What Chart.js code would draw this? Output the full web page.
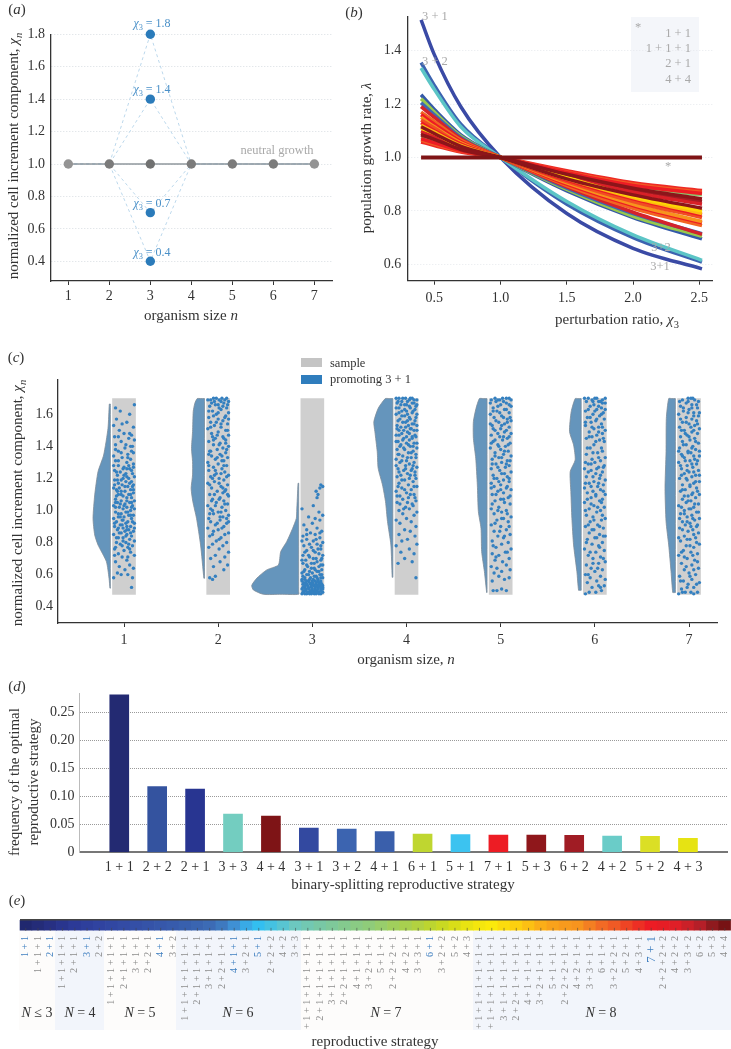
<!DOCTYPE html>
<html>
<head>
<meta charset="utf-8">
<script src="https://cdn.jsdelivr.net/npm/chart.js@4"></script>
<style>
  html, body { margin: 0; padding: 0; background: #fff; }
  #page { position: relative; width: 731px; height: 1049px; overflow: hidden; font-family: 'Liberation Serif', serif; color: #333; }
  canvas { position: absolute; left: 0; top: 0; }
  .t { position: absolute; white-space: nowrap; transform: translate(-50%, -50%); line-height: 1; }
  .v { transform: translate(-50%, -50%) rotate(-90deg); }
  .r { transform: translate(-100%, -50%); }
  .l { transform: translate(0, -50%); }
  .ax { font-size: 15px; }
  .tag { font-size: 15px; }
  .blue { color: #4a90c8; font-size: 12px; }
  .pale { color: #a9a9a9; font-size: 12.5px; }
  .band { position: absolute; top: 931px; height: 99px; }
  .swatch { position: absolute; left: 301px; width: 21px; height: 9px; }
  sub { font-size: 70%; line-height: 0; }
</style>
</head>
<body>
<div id="page">
  <div class="band" style="left:19px;width:36px;background:#fdfcfb"></div>
  <div class="band" style="left:55px;width:49px;background:#f2f5fb"></div>
  <div class="band" style="left:104px;width:72px;background:#fdfcfb"></div>
  <div class="band" style="left:176px;width:125px;background:#f2f5fb"></div>
  <div class="band" style="left:301px;width:172px;background:#fdfcfb"></div>
  <div class="band" style="left:473px;width:258px;background:#f2f5fb"></div>
  <div style="position:absolute;left:631px;top:17px;width:68px;height:75px;background:#f4f6fa"></div>

  <canvas id="chartA" width="731" height="1049"></canvas>
  <canvas id="chartB" width="731" height="1049"></canvas>
  <canvas id="chartC" width="731" height="1049"></canvas>
  <canvas id="chartD" width="731" height="1049"></canvas>
  <canvas id="chartE" width="760" height="1030"></canvas>

  <!-- panel a -->
  <div class="t tag" style="left:17px;top:9px">(<i>a</i>)</div>
  <div class="t ax v" style="left:13px;top:156px">normalized cell increment component, <i>χ<sub>n</sub></i></div>
  <div class="t ax" style="left:191px;top:315px">organism size <i>n</i></div>
  <div class="t blue" style="left:152px;top:23px"><i>χ</i><sub>3</sub> = 1.8</div>
  <div class="t blue" style="left:152px;top:89px"><i>χ</i><sub>3</sub> = 1.4</div>
  <div class="t blue" style="left:152px;top:203px"><i>χ</i><sub>3</sub> = 0.7</div>
  <div class="t blue" style="left:152px;top:252px"><i>χ</i><sub>3</sub> = 0.4</div>
  <div class="t pale" style="left:277px;top:150px">neutral growth</div>

  <!-- panel b -->
  <div class="t tag" style="left:354px;top:12px">(<i>b</i>)</div>
  <div class="t ax v" style="left:366px;top:158px">population growth rate, <i>λ</i></div>
  <div class="t ax" style="left:617px;top:319px">perturbation ratio, <i>χ</i><sub>3</sub></div>
  <div class="t pale l" style="left:422px;top:16px">3 + 1</div>
  <div class="t pale l" style="left:422px;top:61px">3 + 2</div>
  <div class="t pale" style="left:661px;top:247px">3+2</div>
  <div class="t pale" style="left:660px;top:266px">3+1</div>
  <div class="t pale" style="left:638px;top:27px">*</div>
  <div class="t pale" style="left:668px;top:166px">*</div>
  <div class="t pale r" style="left:691px;top:33px">1 + 1</div>
  <div class="t pale r" style="left:691px;top:48px">1 + 1 + 1</div>
  <div class="t pale r" style="left:691px;top:63px">2 + 1</div>
  <div class="t pale r" style="left:691px;top:79px">4 + 4</div>

  <!-- panel c -->
  <div class="t tag" style="left:16px;top:357px">(<i>c</i>)</div>
  <div class="t ax v" style="left:17px;top:503px">normalized cell increment component, <i>χ<sub>n</sub></i></div>
  <div class="t ax" style="left:406px;top:659px">organism size, <i>n</i></div>
  <div class="swatch" style="top:358px;background:#c4c4c4"></div>
  <div class="swatch" style="top:375px;background:#2f7dbd"></div>
  <div class="t l" style="left:330px;top:363px;font-size:12.5px">sample</div>
  <div class="t l" style="left:330px;top:379px;font-size:12.5px">promoting 3 + 1</div>

  <!-- panel d -->
  <div class="t tag" style="left:17px;top:686px">(<i>d</i>)</div>
  <div class="t ax v" style="left:14px;top:782px">frequency of the optimal</div>
  <div class="t ax v" style="left:33px;top:782px">reproductive strategy</div>
  <div class="t ax" style="left:403px;top:884px">binary-splitting reproductive strategy</div>

  <!-- panel e -->
  <div class="t tag" style="left:17px;top:900px">(<i>e</i>)</div>
  <div class="t" style="left:37px;top:1013px;font-size:14px"><i>N</i> ≤ 3</div>
  <div class="t" style="left:80px;top:1013px;font-size:14px"><i>N</i> = 4</div>
  <div class="t" style="left:140px;top:1013px;font-size:14px"><i>N</i> = 5</div>
  <div class="t" style="left:238px;top:1013px;font-size:14px"><i>N</i> = 6</div>
  <div class="t" style="left:386px;top:1013px;font-size:14px"><i>N</i> = 7</div>
  <div class="t" style="left:601px;top:1013px;font-size:14px"><i>N</i> = 8</div>
  <div class="t ax" style="left:375px;top:1041px">reproductive strategy</div>
</div>

<script>
// --- panel a data ---
const sizes = [1, 2, 3, 4, 5, 6, 7];
const neutral = [1, 1, 1, 1, 1, 1, 1];
const perturbed18 = [1, 1, 1.8, 1, 1, 1, 1];
const perturbed14 = [1, 1, 1.4, 1, 1, 1, 1];
const perturbed07 = [1, 1, 0.7, 1, 1, 1, 1];
const perturbed04 = [1, 1, 0.4, 1, 1, 1, 1];

// --- panel b data (lambda read at these perturbation ratios) ---
const ratios = [0.4, 0.5, 0.7, 1, 1.5, 2, 2.52];
const curve31 = [1.515, 1.385, 1.19, 1, 0.79, 0.66, 0.583];
const curve32 = [1.355, 1.27, 1.125, 1, 0.825, 0.70, 0.608];
const curveCyan = [1.335, 1.255, 1.115, 1, 0.835, 0.71, 0.615];
const curveMid = [
  [1.235, 1.18, 1.085, 1, 0.875, 0.775, 0.695],
  [1.22, 1.17, 1.08, 1, 0.88, 0.78, 0.705],
  [1.205, 1.16, 1.075, 1, 0.885, 0.79, 0.715],
  [1.19, 1.15, 1.07, 1, 0.89, 0.795, 0.712]
];
const curveFan = [
  [1.058, 1.045, 1.02, 1, 0.95, 0.905, 0.876],
  [1.065, 1.05, 1.024, 1, 0.945, 0.90, 0.87],
  [1.075, 1.06, 1.028, 1, 0.94, 0.89, 0.86],
  [1.07, 1.055, 1.026, 1, 0.943, 0.895, 0.865],
  [1.09, 1.07, 1.035, 1, 0.935, 0.88, 0.835],
  [1.10, 1.08, 1.038, 1, 0.93, 0.87, 0.825],
  [1.17, 1.135, 1.065, 1, 0.895, 0.81, 0.745],
  [1.16, 1.125, 1.06, 1, 0.90, 0.82, 0.755],
  [1.15, 1.115, 1.055, 1, 0.905, 0.825, 0.76],
  [1.14, 1.11, 1.05, 1, 0.91, 0.835, 0.775],
  [1.13, 1.10, 1.05, 1, 0.915, 0.845, 0.785],
  [1.12, 1.095, 1.045, 1, 0.92, 0.85, 0.79],
  [1.11, 1.09, 1.04, 1, 0.925, 0.855, 0.80],
  [1.115, 1.09, 1.042, 1, 0.92, 0.86, 0.81],
  [1.085, 1.068, 1.03, 1, 0.937, 0.885, 0.845]
];
const curveFlat = [1, 1, 1, 1, 1, 1, 1];
const midColours = ['#3459a8', '#98c84c', '#3f68b2', '#d4232b'];
const fanColours = ['#ee2a24', '#f15a24', '#8bc66b', '#ed1c24', '#a51c24', '#d82027', '#f26522', '#ed1c24', '#f7941d', '#f04e23', '#ed1c24', '#fdb813', '#fed504', '#8c151a', '#8c151a'];

// --- panel c data: half violin outlines (chi, width) ---
const violinChi1 = [1.664, 1.513, 1.346, 1.242, 1.097, 0.951, 0.847, 0.785, 0.681, 0.577, 0.515];
const violinWidth1 = [0.011, 0.025, 0.071, 0.131, 0.166, 0.184, 0.166, 0.131, 0.042, 0.014, 0.004];
const violinChi2 = [1.698, 1.669, 1.617, 1.492, 1.388, 1.305, 1.222, 1.138, 1.055, 0.951, 0.785, 0.577];
const violinWidth2 = [0.078, 0.103, 0.120, 0.127, 0.138, 0.127, 0.127, 0.142, 0.124, 0.085, 0.042, 0.007];
const violinChi3 = [1.170, 0.993, 0.951, 0.889, 0.806, 0.743, 0.660, 0.629, 0.577, 0.532, 0.504, 0.477];
const violinWidth3 = [0.007, 0.021, 0.025, 0.064, 0.127, 0.191, 0.216, 0.340, 0.446, 0.499, 0.481, 0.375];
const violinChi4 = [1.698, 1.637, 1.554, 1.492, 1.367, 1.263, 1.159, 1.055, 0.931, 0.785, 0.583];
const violinWidth4 = [0.081, 0.156, 0.202, 0.191, 0.166, 0.156, 0.110, 0.078, 0.057, 0.021, 0.007];
const violinChi5 = [1.698, 1.637, 1.554, 1.450, 1.326, 1.159, 0.993, 0.889, 0.743, 0.619, 0.488];
const violinWidth5 = [0.081, 0.117, 0.145, 0.145, 0.120, 0.103, 0.092, 0.064, 0.057, 0.028, 0.004];
const violinChi6 = [1.698, 1.617, 1.492, 1.409, 1.315, 1.242, 1.118, 0.951, 0.785, 0.619, 0.502];
const violinWidth6 = [0.064, 0.106, 0.124, 0.081, 0.064, 0.117, 0.110, 0.099, 0.081, 0.046, 0.028];
const violinChi7 = [1.698, 1.575, 1.367, 1.138, 0.931, 0.785, 0.619, 0.488];
const violinWidth7 = [0.071, 0.096, 0.099, 0.110, 0.099, 0.071, 0.046, 0.028];
const sampleRange = [0.477, 1.698];
const sizeTicksChi = [0.4, 0.6, 0.8, 1.0, 1.2, 1.4, 1.6];

// promoting 3 + 1 dots, flat pairs: jitter (hundredths of n), chi (hundredths)
const dots1 = [8,52,-11,58,9,58,-3,60,4,60,-7,61,1,63,10,64,-5,65,6,66,-9,68,3,69,-2,71,11,72,-6,73,7,74,0,75,-10,76,4,77,9,78,-4,79,-8,80,2,80,11,81,6,82,-1,83,-6,83,8,84,-11,85,3,85,-3,86,1,87,10,87,-7,88,5,88,-1,89,-10,90,7,90,-4,91,2,92,11,92,-8,93,4,93,-2,94,-11,95,8,95,0,96,-6,96,5,97,10,97,-3,98,2,99,-9,99,7,100,-1,101,11,101,-5,102,3,102,-11,103,9,103,1,104,-7,105,6,105,-3,106,11,106,-9,107,3,108,8,108,-1,109,-6,110,5,110,10,111,-3,112,1,112,-8,113,7,113,-11,114,4,115,-2,116,10,116,-6,117,2,118,8,118,-10,119,-1,120,5,120,11,121,-7,122,2,123,9,123,-4,124,-10,125,6,126,0,127,-6,128,10,129,3,130,-9,131,7,132,-2,133,-11,134,4,135,10,136,-6,137,1,139,7,140,9,140,-9,141,-3,143,11,144,5,145,-10,146,8,147,0,148,-5,150,10,152,-11,153,3,155,-8,157,6,160,-4,162,-9,164,11,166];
const dots2 = [-9,58,-6,57,-3,59,6,63,-5,65,10,66,2,68,-8,70,7,71,-3,72,11,74,1,76,-10,77,5,78,-6,79,9,80,-2,81,3,83,-9,84,7,85,11,86,-5,87,0,88,-11,89,6,90,-3,91,9,92,-8,93,2,94,-10,95,5,96,11,97,-5,98,0,99,8,100,-8,101,4,102,-11,103,10,104,-2,105,6,106,-6,107,2,108,11,109,-9,110,5,111,-1,112,8,113,-7,114,3,115,10,116,-11,117,-4,118,6,119,1,120,-8,121,11,122,-2,123,7,124,-10,125,4,126,-5,127,9,128,0,129,-11,130,6,131,-3,132,10,133,-7,134,2,135,8,136,-9,137,-1,138,5,139,11,140,-5,141,2,142,-10,143,8,144,-3,145,5,146,11,147,-7,148,0,149,8,150,-11,151,3,152,-4,153,10,154,-8,155,5,156,0,157,-10,158,8,159,-2,160,11,161,-6,162,3,163,9,164,-9,165,0,166,6,167,-4,168,11,168,1,169,-8,169,7,169,4,170,-2,170];
const dots3 = [-11,48,-6,48,-1,48,4,48,9,48,-9,49,-3,49,2,49,7,49,11,49,-7,50,0,50,5,50,-11,51,-4,51,3,51,9,51,-8,52,-1,52,6,52,11,52,-5,53,2,53,8,53,-10,54,-2,54,4,54,10,54,-7,55,0,55,7,55,-11,56,-4,56,3,56,9,56,-8,57,1,57,6,57,-2,58,11,58,-10,59,4,59,-6,60,8,60,0,61,-11,61,5,62,-3,62,10,63,-8,63,2,64,7,65,-5,65,11,66,-10,67,-1,67,5,68,9,69,-7,69,1,70,-3,71,11,72,-10,72,7,73,3,74,-6,75,9,76,-1,77,-9,78,5,79,11,80,1,81,-6,82,8,83,-10,84,3,85,-2,86,10,87,-6,88,5,89,-9,91,0,92,8,94,3,95,-4,96,11,97,7,99,-11,101,1,103,5,108,6,110,4,112,8,114,11,115,9,116];
const dots4 = [10,58,-9,67,6,68,-2,70,8,73,-6,74,3,76,-11,78,11,79,-5,81,1,82,9,84,-8,85,4,87,-2,88,10,90,-7,92,5,93,-11,94,0,95,8,97,-4,98,11,99,-8,100,3,101,-1,102,6,104,-10,105,10,106,-4,107,2,108,-7,109,8,110,0,111,-11,112,5,113,-5,114,11,115,2,116,-8,117,7,118,-2,119,10,120,-10,121,4,122,-6,122,1,123,9,124,-3,125,6,126,-9,126,11,127,-1,128,3,129,-7,130,8,130,0,131,-11,132,5,133,-4,134,10,135,-8,135,2,136,7,137,-2,138,-10,138,11,139,4,140,-6,141,0,142,8,142,-9,143,3,144,-3,145,10,146,6,146,-11,147,-5,148,1,149,8,150,-8,150,4,151,-1,152,11,153,-10,153,6,154,-4,155,1,156,9,156,-7,157,3,158,-2,159,11,160,-11,160,6,161,-5,162,0,162,9,163,-8,164,3,165,-2,166,11,166,6,167,-10,167,-5,168,1,168,8,169,-1,170,4,170,-8,170];
const dots5 = [-8,50,-4,50,6,50,1,51,-9,56,4,57,9,58,-2,59,-7,61,1,62,10,63,-4,64,-10,65,6,66,2,68,-6,69,9,70,-2,72,-9,73,5,74,11,76,-5,77,1,79,8,80,-9,81,3,83,-3,84,10,85,-7,87,6,88,0,90,-10,91,8,93,-4,94,3,95,11,96,-7,98,1,99,6,100,-10,101,-2,102,10,104,4,105,-6,106,0,107,8,108,-9,110,3,111,-3,112,11,113,6,114,-7,115,0,116,-10,117,9,118,3,119,-4,120,7,121,-8,122,1,123,11,124,-1,125,-10,126,5,127,9,128,-5,129,1,130,7,131,-9,132,-2,133,11,134,3,135,-6,136,8,137,0,138,-11,139,5,140,-3,141,10,142,-8,143,2,144,7,145,-1,146,-10,147,11,148,4,149,-6,150,0,151,9,152,-9,153,4,154,-2,155,11,156,7,157,-7,158,1,159,-11,160,9,161,-4,162,4,163,-8,164,11,165,0,166,6,167,-5,168,-10,169,2,170,9,170,-1,169];
const dots6 = [-10,48,-6,49,1,49,7,50,-3,52,10,53,4,53,-8,55,2,56,11,57,-5,58,6,59,-10,60,0,62,8,63,-4,64,-9,66,4,67,11,68,-2,70,6,71,-7,72,1,74,10,75,-11,76,4,78,-3,79,8,80,-8,82,0,83,11,84,5,85,-6,86,-1,88,9,89,-10,90,3,91,-5,93,7,94,11,95,-2,96,-9,97,2,99,6,100,-6,101,10,102,-1,103,-11,105,5,106,8,107,-4,108,1,109,11,110,-8,111,-2,112,6,113,-11,114,3,115,9,116,-6,117,-1,118,11,119,5,120,-9,121,1,123,8,124,-4,125,-11,126,4,127,10,128,-7,129,0,130,6,131,-3,132,11,133,-9,135,3,136,8,137,-5,139,-1,141,10,143,5,144,-9,145,-3,146,2,147,8,148,-6,149,11,150,-1,151,4,152,-10,153,7,154,-4,155,1,156,10,157,-8,158,5,159,-2,160,9,161,-10,162,2,163,7,164,-5,165,-1,166,11,167,-9,168,4,168,-3,169,8,169,0,170,-7,170,11,170];
const dots7 = [-11,48,-4,49,2,49,9,49,-8,51,5,52,-1,54,11,55,-6,56,3,57,-10,59,7,60,0,61,-5,63,10,64,3,66,-8,67,6,69,-2,70,-11,72,9,73,2,74,-6,75,5,77,-3,78,11,79,-9,81,1,82,7,83,-5,84,10,86,-1,87,4,88,-10,89,8,90,-4,91,1,92,-7,93,6,94,11,95,-2,96,3,97,-9,98,8,99,-5,100,0,101,5,102,-11,103,10,104,-3,105,2,106,-7,107,7,108,-1,109,11,110,4,111,-9,112,-4,113,8,114,1,115,-7,116,5,117,11,118,-2,119,-10,120,3,121,7,122,-5,123,0,124,10,125,-8,126,4,127,-2,128,8,129,-11,130,1,131,6,132,-5,133,11,134,-8,135,2,136,-1,137,7,138,-10,139,4,140,-3,141,10,142,-7,143,1,144,6,145,-9,146,-2,147,9,148,3,149,-5,150,11,151,-10,152,6,153,0,154,-7,155,8,156,3,157,-3,158,10,159,-11,160,5,161,-6,162,0,163,9,164,-9,165,3,166,-3,167,10,168,6,169,-7,169,-1,170,2,170];
const extra1 = [-9,77,5,79,-1,81,7,86,-5,86,3,88,-10,92,9,93,-1,94,-6,98,4,99,-9,102,8,102,0,103,-4,104,3,106,-8,109,7,110,10,113,-5,114,1,115,-10,116,6,117,-3,119,3,121,-8,124,8,125,-1,126,10,127,-6,131,4,133,-3,136,8,137,-9,138,2,141,-6,146,6,148,-2,154,-10,72,4,71,-8,83,3,90,-4,96,8,105,-7,112,0,122,5,128,-11,128,6,76,-2,78,2,84,-6,89,11,89,-2,91,7,97,-9,105,-3,110,9,115,-7,119,3,126];
const extra2 = [1,82,-6,85,4,89,-1,92,9,95,-9,98,3,99,-3,103,7,104,-7,106,1,107,10,110,-4,110,5,114,-9,116,1,117,-6,120,9,121,3,123,-3,125,-10,128,6,128,-1,133,4,134,-8,137,9,138,1,141,-5,144,6,145,-1,147,10,150,-8,152,3,154,7,158,-5,159,0,161,-10,162,5,165,-3,166,10,166,-7,167,3,168,9,170,-5,170,-11,169,1,164,-2,155,11,157,-6,146,8,142,-10,135,4,131,-4,122,7,112,-6,100,2,96,11,93];
const extra3 = [-8,48,-3,48,2,48,7,48,-10,49,-5,49,0,49,5,49,9,50,-9,50,-2,50,3,50,-7,51,0,51,6,51,11,51,-10,52,-4,52,3,52,9,52,-8,53,-1,53,5,53,11,53,-6,54,1,54,7,54,-9,55,-3,55,4,55,9,55,-6,56,0,56,6,56,-11,57,-3,57,9,58,-8,58,5,58,2,59,-4,60,10,60,-9,62,3,63,-1,64,7,62,-6,66,2,67,9,66,-11,69,4,70,-4,72,10,70,-8,74,1,75,6,76,-3,79,9,78,-11,81,4,82,-6,85,8,86];
const extra4 = [-3,101,7,103,-7,104,1,105,9,108,-10,109,4,110,-2,113,8,115,-9,115,-5,119,3,120,9,122,-8,124,5,125,-1,126,-11,128,7,128,-5,131,1,133,10,133,-9,135,5,136,-3,139,7,140,-7,140,2,141,11,142,-11,143,-4,144,6,145,0,146,-8,147,9,147,3,148,-3,150,11,150,-10,151,5,151,-6,152,2,153,8,154,-1,155,-9,156,4,157,10,158,-5,159,1,160,-8,161,7,162,-2,163,-11,164,4,164,10,165,-6,166,0,166,8,167,-9,168,3,169,11,169,-4,170,-11,170,6,170];
const extra5 = [-5,71,7,74,-8,78,4,84,-1,87,9,90,-6,92,1,95,7,98,-3,100,-9,104,3,107,10,109,-5,110,0,113,7,115,-10,114,-2,118,9,120,-7,120,4,123,-3,127,6,129,-9,129,1,133,10,131,-6,134,4,137,-2,140,8,141,-10,142,-6,144,3,146,9,146,-3,148,6,150,-8,151,1,153,-11,154,7,155,-5,156,3,158,10,158,-1,161,-8,162,6,163,-3,165,9,166,-11,167,3,168,-6,170,6,170,-3,169,11,169];
const extra6 = [6,52,-7,60,3,64,-2,67,9,70,-5,74,5,77,-9,80,2,83,9,84,-3,88,5,90,-7,91,-1,94,8,97,-10,100,3,102,-4,104,7,105,-8,107,1,110,9,112,-4,115,4,117,-10,117,-2,121,6,122,-7,124,2,126,9,127,-4,129,-10,130,4,133,-2,136,7,139,-8,139,1,143,9,145,-6,146,4,149,-3,152,8,152,-10,155,2,157,-5,158,7,160,0,162,-7,163,11,163,4,165,-2,168,8,167,-11,170,2,170,6,168];
const extra7 = [5,48,-7,49,-2,52,8,54,-9,56,1,59,5,63,-3,65,9,68,-5,71,4,72,-8,74,1,78,8,80,-2,82,-11,83,5,85,-7,88,2,90,9,91,-2,93,-10,95,4,95,-5,98,10,99,2,101,-8,102,6,104,-1,106,-5,109,3,110,9,112,-7,113,1,116,7,118,-3,120,-8,122,5,124,11,122,-2,125,-9,128,3,129,-4,131,9,131,-7,134,5,134,-1,136,11,137,-11,137,3,139,-6,141,7,143,0,146,-4,148,5,150,-8,150,2,152,-3,155,9,154,-9,157,5,159,-1,161,11,161,-6,164,3,164,8,166,-1,168,-10,168,4,170];

// --- panel d data ---
const topStrategies = ['1 + 1', '2 + 2', '2 + 1', '3 + 3', '4 + 4', '3 + 1', '3 + 2', '4 + 1', '6 + 1', '5 + 1', '7 + 1', '5 + 3', '6 + 2', '4 + 2', '5 + 2', '4 + 3'];
const topFrequency = [0.282, 0.1176, 0.1134, 0.0686, 0.065, 0.0436, 0.0418, 0.037, 0.0328, 0.0316, 0.031, 0.031, 0.0304, 0.0292, 0.0286, 0.025];
const topColours = ['#232a72', '#34539f', '#283591', '#73cdc0', '#7e1416', '#3349a0', '#3c64b0', '#3a5fab', '#bfd630', '#3cc3f0', '#ed1c24', '#8f171b', '#a01c24', '#6accc8', '#dbdf25', '#e6e313'];
const frequencyTicks = [0, 0.05, 0.10, 0.15, 0.20, 0.25];

// --- panel e data ---
const allStrategies = [
  '1 + 1', '1 + 1 + 1', '2 + 1',
  '1 + 1 + 1 + 1', '2 + 1 + 1', '3 + 1', '2 + 2',
  '1 + 1 + 1 + 1 + 1', '2 + 1 + 1 + 1', '3 + 1 + 1', '2 + 2 + 1', '4 + 1', '3 + 2',
  '1 + 1 + 1 + 1 + 1 + 1', '2 + 1 + 1 + 1 + 1', '3 + 1 + 1 + 1', '2 + 2 + 1 + 1', '4 + 1 + 1', '3 + 2 + 1', '5 + 1', '2 + 2 + 2', '4 + 2', '3 + 3',
  '1 + 1 + 1 + 1 + 1 + 1 + 1', '2 + 1 + 1 + 1 + 1 + 1', '3 + 1 + 1 + 1 + 1', '2 + 2 + 1 + 1 + 1', '4 + 1 + 1 + 1', '3 + 2 + 1 + 1', '5 + 1 + 1', '2 + 2 + 2 + 1', '4 + 2 + 1', '3 + 3 + 1', '6 + 1', '3 + 2 + 2', '5 + 2', '4 + 3',
  '1 + 1 + 1 + 1 + 1 + 1 + 1 + 1', '2 + 1 + 1 + 1 + 1 + 1 + 1', '3 + 1 + 1 + 1 + 1 + 1', '2 + 2 + 1 + 1 + 1 + 1', '4 + 1 + 1 + 1 + 1', '3 + 2 + 1 + 1 + 1', '5 + 1 + 1 + 1', '2 + 2 + 2 + 1 + 1', '4 + 2 + 1 + 1', '3 + 3 + 1 + 1', '6 + 1 + 1', '3 + 2 + 2 + 1', '5 + 2 + 1', '4 + 3 + 1', '7 + 1', '2 + 2 + 2 + 2', '4 + 2 + 2', '3 + 3 + 2', '6 + 2', '5 + 3', '4 + 4'
];
const highlighted = ['1 + 1', '2 + 1', '3 + 1', '4 + 1', '4 + 1 + 1', '5 + 1', '6 + 1', '7 + 1'];
const stripValues = allStrategies.map(() => 1);
const stripColours = [
  '#20286f', '#242c78', '#273083', '#29358e', '#2c3a97', '#2e3f9c', '#3043a0', '#3147a2', '#334ba4', '#344fa6',
  '#3553a8', '#3657aa', '#375bac', '#3860ae', '#3a65b1', '#3c6bb5', '#3e79bf', '#3f90d4', '#39aae6', '#33bff0',
  '#44c2e2', '#58c5d2', '#6cc8c0', '#72c8b2', '#78c8a5', '#7ec99a', '#84ca8e', '#8acb84', '#8fcc7a', '#98ce6c',
  '#a1cf5c', '#a8d04f', '#b2d240', '#bcd530', '#c9d922', '#d9de18', '#e8e312', '#f4e60e', '#fbe90b', '#fcdc0d',
  '#fdd00f', '#fcc013', '#fbae18', '#f9a21b', '#f89a1d', '#f7941e', '#f47f22', '#f26a25', '#f05a25', '#ee4424',
  '#ed2f24', '#ed1c24', '#e61d25', '#e01f27', '#cb2028', '#b51f28', '#8f1a1e', '#771214'
];

// --- helpers ---
Chart.defaults.font.family = "'Liberation Serif', serif";
Chart.defaults.font.size = 14;
Chart.defaults.color = '#333';
Chart.defaults.animation = false;
Chart.defaults.responsive = false;
Chart.defaults.devicePixelRatio = 1;
Chart.defaults.plugins.legend.display = false;
Chart.defaults.plugins.tooltip.enabled = false;

// chart area is set by layout padding plus fixed axis sizes (labels get clipped to the axis box)
const yRoom = 40, xRoom = 35;
function area(left, top, right, bottom) {
  return { padding: { left: left - yRoom, top, right: 731 - right, bottom: 1049 - bottom - xRoom } };
}
const fixWidth = scale => { scale.width = yRoom; };
const fixHeight = scale => { scale.height = xRoom; };
const fixed1 = v => v.toFixed(1);
const toPoints = (xs, ys) => xs.map((x, i) => ({ x, y: ys[i] }));

function hAxis(min, max, step, cb, pad) {
  return {
    type: 'linear', min, max, offset: false, afterFit: fixHeight,
    border: { color: '#333', width: 1.3 },
    grid: { offset: false, drawOnChartArea: false, drawTicks: true, tickLength: 4, tickColor: '#333' },
    ticks: { stepSize: step, includeBounds: false, autoSkip: false, callback: cb, padding: pad, maxRotation: 0 }
  };
}
function vAxis(min, max, step, gridColor, dash, pad) {
  return {
    type: 'linear', min, max, afterFit: fixWidth,
    border: { color: '#333', width: 1.3, dash: dash },
    grid: { color: gridColor, drawTicks: false },
    ticks: { stepSize: step, includeBounds: false, autoSkip: false, callback: fixed1, padding: pad }
  };
}

// --- panel a ---
const dashLine = values => ({
  data: toPoints(sizes, values), showLine: true, order: 5,
  borderColor: '#bcd8ec', borderWidth: 1, borderDash: [3, 3],
  pointRadius: ctx => (ctx.parsed.x === 3 ? 4.7 : 0),
  pointBackgroundColor: '#2b7bba', pointBorderWidth: 0, clip: false
});
new Chart(document.getElementById('chartA'), {
  type: 'scatter',
  data: { datasets: [
    { data: toPoints(sizes, neutral), showLine: true, order: 1, borderColor: '#8f979c', borderWidth: 1.5,
      pointRadius: 4.7, pointBorderWidth: 0, clip: false,
      pointBackgroundColor: ['#949494', '#7b7b7b', '#707171', '#7b7b7b', '#7b7b7b', '#7b7b7b', '#949494'] },
    dashLine(perturbed18), dashLine(perturbed14), dashLine(perturbed07), dashLine(perturbed04)
  ] },
  options: {
    layout: area(51, 34.3, 332, 281),
    scales: {
      x: hAxis(0.578, 7.43, 1, v => v, 3),
      y: vAxis(0.2785, 1.8, 0.2, '#d8dde2', [1, 2], 6)
    }
  }
});

// --- panel b ---
const bLine = (values, colour, order, width) => ({
  data: toPoints(ratios, values), showLine: true, order, borderColor: colour, borderWidth: width || 3.5,
  cubicInterpolationMode: 'monotone', pointRadius: 0
});
const bSets = [];
bSets.push(bLine(curveFlat, '#7f1416', 1, 4));
curveFan.slice().reverse().forEach((c, i) => bSets.push(bLine(c, fanColours[curveFan.length - 1 - i], 2 + i)));
curveMid.slice().reverse().forEach((c, i) => bSets.push(bLine(c, midColours[curveMid.length - 1 - i], 20 + i)));
bSets.push(bLine(curveCyan, '#5cc5c6', 30));
bSets.push(bLine(curve32, '#3c63b0', 31));
bSets.push(bLine(curve31, '#3a4aa5', 32));
new Chart(document.getElementById('chartB'), {
  type: 'scatter',
  data: { datasets: bSets },
  options: {
    layout: area(407.3, 17, 712.7, 280.7),
    scales: {
      x: hAxis(0.296, 2.601, 0.5, fixed1, 5),
      y: vAxis(0.5386, 1.526, 0.2, '#e6e9ed', [1, 2], 6)
    }
  }
});

// --- panel c ---
const violins = [
  [violinChi1, violinWidth1], [violinChi2, violinWidth2], [violinChi3, violinWidth3], [violinChi4, violinWidth4],
  [violinChi5, violinWidth5], [violinChi6, violinWidth6], [violinChi7, violinWidth7]
];
const dots = [dots1.concat(extra1), dots2.concat(extra2), dots3.concat(extra3), dots4.concat(extra4), dots5.concat(extra5), dots6.concat(extra6), dots7.concat(extra7)];
const cSets = [];
sizes.forEach((n, i) => {
  const pts = [];
  for (let k = 0; k < dots[i].length; k += 2) pts.push({ x: n + dots[i][k] / 100, y: dots[i][k + 1] / 100 });
  cSets.push({ type: 'scatter', data: pts, order: 0, pointRadius: 1.7, pointBorderWidth: 0, pointBackgroundColor: '#3480c0' });

  // corners are repeated so the smoothing does not bulge past the flat edges
  const chi = violins[i][0], wid = violins[i][1], base = n - 0.145;
  const top = chi[0], low = chi[chi.length - 1];
  const outline = [{ x: base, y: top }, { x: base - wid[0] / 2, y: top }];
  chi.forEach((c, k) => outline.push({ x: base - wid[k], y: c }));
  outline.push({ x: base - wid[wid.length - 1] / 2, y: low }, { x: base, y: low }, { x: base, y: low + 0.02 }, { x: base, y: top - 0.02 }, { x: base, y: top });
  cSets.push({ type: 'scatter', data: outline, showLine: true, fill: 'shape', order: 1, pointRadius: 0,
    borderColor: '#7c8b99', borderWidth: 0.8, backgroundColor: '#6595bc', tension: 0.2 });
});
cSets.push({ type: 'bar', data: sizes.map(n => ({ x: n, y: sampleRange })), order: 2, barThickness: 23, backgroundColor: '#cfcfcf' });
new Chart(document.getElementById('chartC'), {
  type: 'bar',
  data: { datasets: cSets },
  options: {
    layout: area(58, 380, 717, 623),
    scales: {
      x: hAxis(0.299, 7.297, 1, v => v, 5),
      y: Object.assign(vAxis(0.298, 1.814, 0.2, 'transparent', [], 5), {
        afterBuildTicks: s => { s.ticks = sizeTicksChi.map(value => ({ value })); }
      })
    }
  }
});

// --- panel d ---
new Chart(document.getElementById('chartD'), {
  type: 'bar',
  data: { datasets: [{ data: topFrequency.map((y, x) => ({ x, y })), backgroundColor: topColours, barThickness: 19 }] },
  options: {
    layout: area(79.5, 693, 727, 852.3),
    scales: {
      x: Object.assign(hAxis(-1.049, 16.03, 1, v => topStrategies[v], 7), {
        border: { color: '#777', width: 2 },
        grid: { offset: false, drawOnChartArea: false, drawTicks: false }
      }),
      y: { min: 0, max: 0.2855, afterFit: fixWidth, border: { color: '#bbb', width: 1, dash: [1, 1] },
           grid: { color: '#9a9a9a', drawTicks: false },
           ticks: { stepSize: 0.05, includeBounds: false, padding: 5, callback: v => (v === 0 ? '0' : v.toFixed(2)) },
           afterBuildTicks: s => { s.ticks = frequencyTicks.map(value => ({ value })); } }
    }
  }
});

// --- panel e (canvas is wider than the page so the last rotated label adds no inset) ---
new Chart(document.getElementById('chartE'), {
  type: 'bar',
  data: {
    labels: allStrategies,
    datasets: [
      { data: stripValues, backgroundColor: stripColours, borderWidth: 0, barPercentage: 1, categoryPercentage: 1, order: 1 },
      { type: 'line', data: stripValues.map(v => v * 0.14), showLine: false, order: 0, pointStyle: 'line', pointRotation: 90,
        pointRadius: 1.6, pointBorderColor: 'rgba(70,70,70,.55)', pointBorderWidth: 1 }
    ]
  },
  options: {
    layout: { padding: { left: 19.6, top: 920, right: 29.1, bottom: 0 } },
    scales: {
      x: { afterFit: s => { s.height = 99; }, border: { display: false }, grid: { display: false, drawTicks: false },
           ticks: { minRotation: 90, maxRotation: 90, autoSkip: false, padding: 5,
                    font: ctx => ({ size: allStrategies[ctx.index] === '7 + 1' ? 13 : 10.2 }),
                    color: ctx => (highlighted.includes(allStrategies[ctx.index]) ? '#3f7fc0' : '#8c8c8c') } },
      y: { min: 0, max: 1, afterFit: s => { s.width = 0; }, border: { display: false },
           grid: { z: 1, drawTicks: false, lineWidth: 1.5, color: ctx => (ctx.tick.value === 1 ? '#444' : 'transparent') },
           ticks: { display: false, stepSize: 1 } }
    }
  }
});
</script>
</body>
</html>
